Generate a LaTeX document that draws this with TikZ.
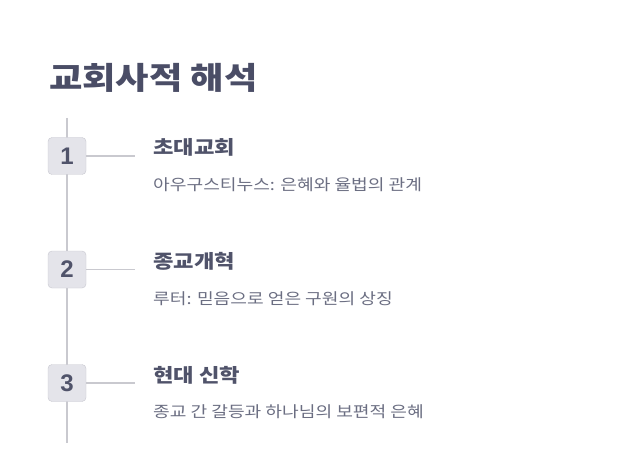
\documentclass[tikz,border=0pt]{standalone}
\usepackage{fontspec}
\setmainfont{Noto Sans CJK KR}[FakeStretch=1.17]
\newfontfamily\numfont{Liberation Sans}
\usetikzlibrary{positioning}
\definecolor{inkdark}{HTML}{4A4D66}
\definecolor{inkhead}{HTML}{50536A}
\definecolor{inksub}{HTML}{6B6E82}
\definecolor{rulegray}{HTML}{C9C9CF}
\definecolor{boxfill}{HTML}{E4E4EA}
\definecolor{boxline}{HTML}{C8C8D0}
\tikzset{
  titletext/.style={anchor=base west,inner sep=0,text=inkdark,font=\fontsize{31}{36}\selectfont\bfseries},
  headtext/.style={anchor=west,inner sep=0,text=inkhead,font=\fontsize{19}{22}\selectfont\bfseries},
  subtext/.style={anchor=west,inner sep=0,text=inksub,font=\fontsize{15.5}{18}\selectfont},
  numbox/.style={draw=boxline,fill=boxfill,rounded corners=4pt,minimum width=38pt,minimum height=37pt,inner sep=0,
    text=inkhead,font=\numfont\fontsize{24}{26}\selectfont\bfseries},
  spine/.style={draw=rulegray,line width=1.4pt},
  link/.style={draw=rulegray,line width=1.4pt}
}
\begin{document}
\begin{tikzpicture}[x=1pt,y=1pt]
  \useasboundingbox[fill=white] (0,0) rectangle (634,-465);
  % title
  \node[titletext] (title) at (49,-90) {교회사적 해석};
  % timeline spine
  \coordinate (top) at (67,-118);
  \coordinate (bot) at (67,-443);
  \draw[spine] (top) -- (bot);

  % step 1
  \node[numbox] (n1) at (67,-156) {1};
  \coordinate (c1) at (135,-156);
  \draw[link] (n1.east) -- (c1);
  \node[headtext] (h1) at (153,-147) {초대교회};
  \node[subtext] (s1) at (153,-185) {아우구스티누스: 은혜와 율법의 관계};

  % step 2
  \node[numbox] (n2) at (67,-269.5) {2};
  \coordinate (c2) at (135,-269.5);
  \draw[link] (n2.east) -- (c2);
  \node[headtext] (h2) at (153,-261) {종교개혁};
  \node[subtext] (s2) at (153,-298.5) {루터: 믿음으로 얻은 구원의 상징};

  % step 3
  \node[numbox] (n3) at (67,-383) {3};
  \coordinate (c3) at (135,-383);
  \draw[link] (n3.east) -- (c3);
  \node[headtext] (h3) at (153,-375) {현대 신학};
  \node[subtext] (s3) at (153,-412) {종교 간 갈등과 하나님의 보편적 은혜};
\end{tikzpicture}
\end{document}
